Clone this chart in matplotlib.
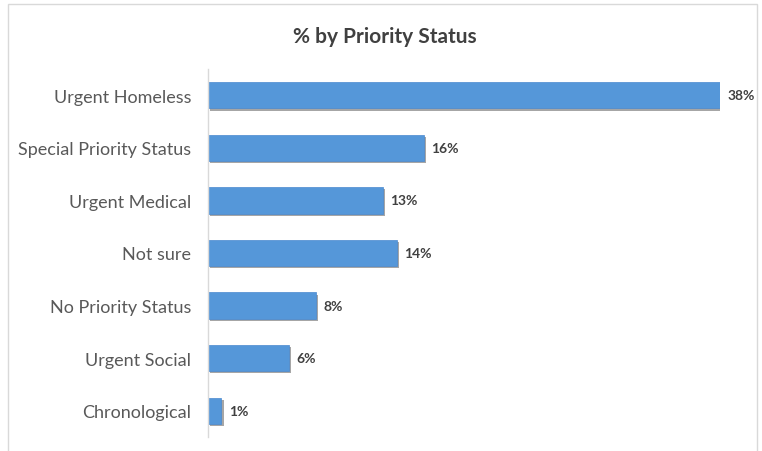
import matplotlib
matplotlib.use("Agg")
import matplotlib.pyplot as plt
import matplotlib.patheffects as pe
from matplotlib.patches import Rectangle

categories = [
    "Urgent Homeless",
    "Special Priority Status",
    "Urgent Medical",
    "Not sure",
    "No Priority Status",
    "Urgent Social",
    "Chronological",
]
values = [38, 16, 13, 14, 8, 6, 1]
value_labels = ["38%", "16%", "13%", "14%", "8%", "6%", "1%"]

plt.rcParams["font.family"] = ["Lato", "DejaVu Sans"]

fig = plt.figure(figsize=(7.62, 4.52), dpi=100)
fig.patch.set_facecolor("white")

# light chart-area border like the Excel export
fig.patches.append(Rectangle((8 / 762, -0.02), 749 / 762, 1 - 5 / 452 + 0.02,
                             transform=fig.transFigure, fill=False,
                             edgecolor="#d9d9d9", linewidth=1.0))

ax = fig.add_axes([208 / 762, 1 - 438 / 452, (720 - 208) / 762, (438 - 70) / 452])

positions = list(range(len(categories)))
bars = ax.barh(positions, values, height=0.5, color="#5597d9",
               edgecolor="#4a89cf", linewidth=0.5)
for bar in bars:
    bar.set_path_effects([pe.SimplePatchShadow(offset=(1.5, -1.5), shadow_rgbFace="#000000", alpha=0.35),
                          pe.Normal()])

for pos, val, lab in zip(positions, values, value_labels):
    ax.text(val + 0.55, pos, lab, va="center", ha="left", fontsize=10,
            fontweight="bold", color="#404040", clip_on=False)

ax.set_xlim(0, 38)
ax.set_ylim(len(categories) - 0.5, -0.5)
ax.set_yticks(positions)
ax.set_yticklabels(categories, fontsize=13, color="#595959")
ax.tick_params(axis="y", length=0, pad=12)
ax.set_xticks([])

for side in ["top", "right", "bottom"]:
    ax.spines[side].set_visible(False)
ax.spines["left"].set_color("#d9d9d9")
ax.spines["left"].set_linewidth(1.0)

fig.text(385 / 762, 1 - 37 / 452, "% by Priority Status", ha="center", va="center",
         fontsize=15, fontweight="bold", color="#404040")

fig.savefig("out.png", dpi=100)
